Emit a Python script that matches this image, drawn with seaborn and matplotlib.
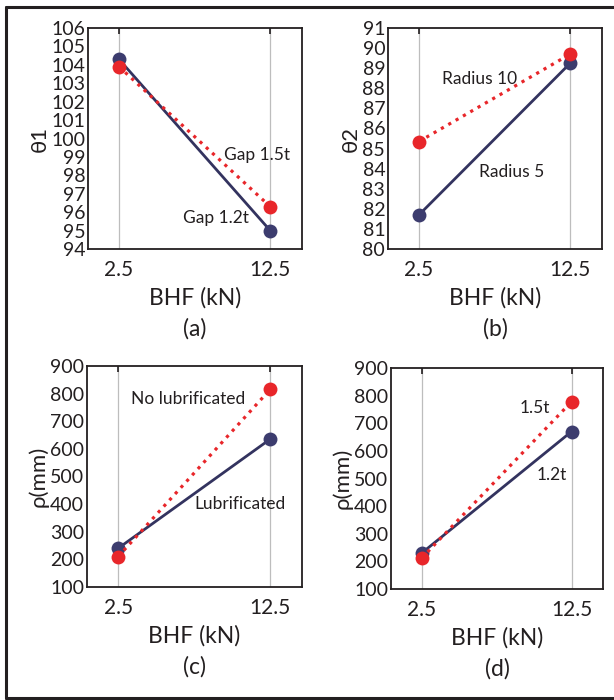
import numpy as np
import pandas as pd
import matplotlib.pyplot as plt
import seaborn as sns
from matplotlib.lines import Line2D

# BHF levels (kN)
bhf = [2.5, 12.5]

# (a) theta1 vs gap
theta1_gap12 = [104.3, 95.0]
theta1_gap15 = [103.9, 96.3]
# (b) theta2 vs die radius
theta2_r5 = [81.7, 89.25]
theta2_r10 = [85.35, 89.7]
# (c) rho vs lubrication
rho_lub = [240, 635]
rho_nolub = [210, 815]
# (d) rho vs gap
rho_gap12 = [230, 670]
rho_gap15 = [212, 778]

panels = [
    dict(blue=theta1_gap12, red=theta1_gap15, ylabel='θ1', yticks=list(range(94, 107)),
         tag='(a)', blue_txt='Gap 1.2t', red_txt='Gap 1.5t'),
    dict(blue=theta2_r5, red=theta2_r10, ylabel='θ2', yticks=list(range(80, 92)),
         tag='(b)', blue_txt='Radius 5', red_txt='Radius 10'),
    dict(blue=rho_lub, red=rho_nolub, ylabel='ρ(mm)', yticks=list(range(100, 1000, 100)),
         tag='(c)', blue_txt='Lubrificated', red_txt='No lubrificated'),
    dict(blue=rho_gap12, red=rho_gap15, ylabel='ρ(mm)', yticks=list(range(100, 1000, 100)),
         tag='(d)', blue_txt='1.2t', red_txt='1.5t'),
]

# text positions in axes fraction (blue label, red label)
txt_pos = [((0.60, 0.14), (0.79, 0.425)),
           ((0.58, 0.35), (0.43, 0.77)),
           ((0.71, 0.375), (0.47, 0.85)),
           ((0.76, 0.515), (0.68, 0.82))]

sns.set_theme(style='white')
plt.rcParams['font.family'] = ['Lato', 'DejaVu Sans']
ink = '#231f20'
blue = '#33335f'
red = '#e8262a'

fig = plt.figure(figsize=(6.14, 7.0), dpi=100)
boxes = [(88, 28, 302, 249), (388, 28, 602, 249),
         (87, 366, 302, 587), (391, 368, 603, 589)]

for p, (x0, y0, x1, y1), (bpos, rpos) in zip(panels, boxes, txt_pos):
    ax = fig.add_axes([x0 / 614, 1 - y1 / 700, (x1 - x0) / 614, (y1 - y0) / 700])
    sns.lineplot(x=bhf, y=p['blue'], ax=ax, color=blue, lw=2, marker='o',
                 markersize=10, markeredgewidth=0, markerfacecolor='#3c3c6e', zorder=3)
    sns.lineplot(x=bhf, y=p['red'], ax=ax, color=red, lw=2.3, ls=':', marker='o',
                 markersize=10, markeredgewidth=0, zorder=4)
    ax.set_xlim(0.45, 14.6)
    ax.set_ylim(p['yticks'][0], p['yticks'][-1])
    ax.set_xticks(bhf)
    ax.set_xticklabels(['2.5', '12.5'], fontsize=15, color=ink)
    ax.set_yticks(p['yticks'])
    ax.set_yticklabels([str(v) for v in p['yticks']], fontsize=14, color=ink)
    ax.grid(axis='x', color='#bdbdbd', lw=0.9)
    ax.tick_params(axis='x', direction='in', top=True, length=4, width=1.2,
                   color=ink, pad=8)
    ax.tick_params(axis='y', length=0, pad=2)
    for s in ax.spines.values():
        s.set_color(ink)
        s.set_linewidth(1.3)
    ax.set_ylabel(p['ylabel'], fontsize=16, color=ink, labelpad=1)
    ax.set_xlabel('BHF (kN)', fontsize=16.5, color=ink, labelpad=5)
    ax.text(0.5, -0.36, p['tag'], transform=ax.transAxes, ha='center', va='center',
            fontsize=16.5, color=ink)
    ax.text(*bpos, p['blue_txt'], transform=ax.transAxes, ha='center', va='center',
            fontsize=12.5, color=ink)
    ax.text(*rpos, p['red_txt'], transform=ax.transAxes, ha='center', va='center',
            fontsize=12.5, color=ink)

# outer frame
for xs, ys in [([6, 6], [7, 698]), ([6, 614], [7, 7]), ([6, 614], [698, 698])]:
    fig.add_artist(Line2D([x / 614 for x in xs], [1 - y / 700 for y in ys],
                          color=ink, lw=2.2))

fig.savefig('out.png', dpi=100)
